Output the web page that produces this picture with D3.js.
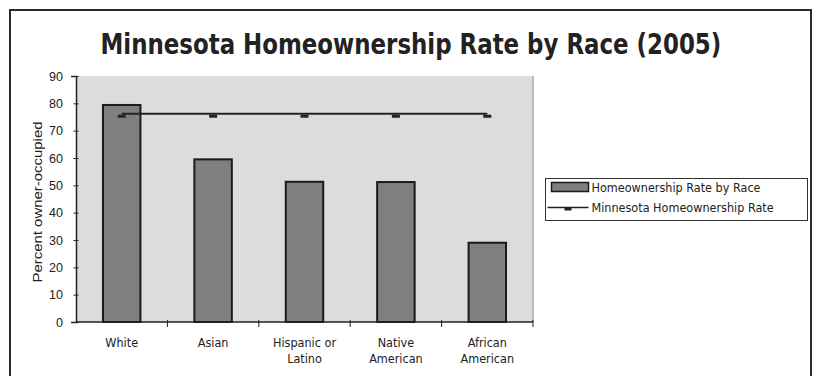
<!DOCTYPE html>
<html>
<head>
<meta charset="utf-8">
<script src="https://cdn.jsdelivr.net/npm/d3@7"></script>
<style>
  body { margin: 0; background: #fff; }
  .cond { font-family: "DejaVu Sans Condensed", "DejaVu Sans", sans-serif; font-stretch: condensed; }
  .arial { font-family: "Liberation Sans", Arial, sans-serif; }
</style>
</head>
<body>
<svg id="chart" width="816" height="376"></svg>
<script>
var categories = [["White"], ["Asian"], ["Hispanic or", "Latino"], ["Native", "American"], ["African", "American"]];
var raceRates = [79.4, 59.5, 51.3, 51.2, 29.0];
var stateRate = [76.2, 76.2, 76.2, 76.2, 76.2];
var yTicks = [0, 10, 20, 30, 40, 50, 60, 70, 80, 90];
var legendLabels = ["Homeownership Rate by Race", "Minnesota Homeownership Rate"];

var svg = d3.select('#chart');

// outer frame (bottom edge runs off the picture)
svg.append('rect')
  .attr('x', 10).attr('y', 10).attr('width', 801).attr('height', 380)
  .attr('fill', '#fff').attr('stroke', '#2a2a2a').attr('stroke-width', 2);

// title, squeezed to the width it has in the original
var title = svg.append('text')
  .attr('class', 'cond')
  .style('font-size', '29px').style('font-weight', 'bold').style('fill', '#222')
  .text('Minnesota Homeownership Rate by Race (2005)');
var tw = title.node().getComputedTextLength(),
    sx = Math.min(1, 621 / tw);
title.attr('transform', 'translate(100.5,53.5) scale(' + sx + ',1)');

var
  plot = {left: 76, right: 533, top: 76, bottom: 322},
  xScale = d3.scaleBand().domain(d3.range(categories.length)).range([plot.left, plot.right]),
  yScale = d3.scaleLinear().domain([0, 90]).range([plot.bottom, plot.top]),
  barW = xScale.bandwidth() * 0.41
  ;

svg.append('rect')
  .attr('x', plot.left).attr('y', plot.top)
  .attr('width', plot.right - plot.left).attr('height', plot.bottom - plot.top)
  .attr('fill', '#dcdcdd');
svg.append('line')
  .attr('x1', plot.right).attr('x2', plot.right)
  .attr('y1', plot.top).attr('y2', plot.bottom)
  .attr('stroke', '#aaa').attr('stroke-width', 1.5);

svg.append('g').selectAll('rect')
  .data(raceRates)
  .join('rect')
  .attr('x', function(d, i){ return xScale(i) + xScale.bandwidth() / 2 - barW / 2; })
  .attr('y', function(d){ return yScale(d); })
  .attr('width', barW)
  .attr('height', function(d){ return yScale(0) - yScale(d); })
  .attr('fill', '#7f7f82').attr('stroke', '#1a1a1a').attr('stroke-width', 2);

// y axis
var yAxis = svg.append('g')
  .attr('transform', 'translate(' + plot.left + ',0)')
  .call(d3.axisLeft(yScale).tickValues(yTicks).tickSize(5).tickPadding(8));
yAxis.select('.domain').attr('stroke', '#222').attr('stroke-width', 1.5);
yAxis.selectAll('.tick line').attr('stroke', '#222').attr('transform', 'translate(2.5,0)').attr('x2', -5);
yAxis.selectAll('text').attr('class', 'arial').style('font-size', '12.5px').style('fill', '#222');

// x axis
var xAxis = svg.append('g').attr('transform', 'translate(0,' + plot.bottom + ')');
xAxis.append('line')
  .attr('x1', plot.left).attr('x2', plot.right)
  .attr('stroke', '#222').attr('stroke-width', 1.5);
xAxis.selectAll('.cat-tick')
  .data(d3.range(categories.length))
  .join('line')
  .attr('x1', function(i){ return xScale(i) + xScale.bandwidth(); })
  .attr('x2', function(i){ return xScale(i) + xScale.bandwidth(); })
  .attr('y1', -2).attr('y2', 5)
  .attr('stroke', '#222');
xAxis.selectAll('.cat')
  .data(categories)
  .join('text')
  .attr('class', 'cond')
  .attr('text-anchor', 'middle')
  .style('font-size', '12.5px').style('fill', '#222')
  .attr('transform', function(d, i){ return 'translate(' + (xScale(i) + xScale.bandwidth() / 2) + ',24.5)'; })
  .selectAll('tspan')
  .data(function(d){ return d; })
  .join('tspan')
  .attr('x', 0)
  .attr('dy', function(d, j){ return j ? 16.5 : 0; })
  .text(function(d){ return d; });

svg.append('text')
  .attr('class', 'arial')
  .attr('transform', 'translate(42,' + 202 + ') rotate(-90)')
  .attr('text-anchor', 'middle')
  .attr('textLength', 161).attr('lengthAdjust', 'spacingAndGlyphs')
  .style('font-size', '13.5px').style('fill', '#222')
  .text('Percent owner-occupied');

// state-wide rate line
var line = d3.line()
  .x(function(d, i){ return xScale(i) + xScale.bandwidth() / 2; })
  .y(function(d){ return yScale(d); });
svg.append('path')
  .datum(stateRate)
  .attr('d', line)
  .attr('fill', 'none').attr('stroke', '#222').attr('stroke-width', 2);
svg.append('g').selectAll('rect')
  .data(stateRate)
  .join('rect')
  .attr('x', function(d, i){ return xScale(i) + xScale.bandwidth() / 2 - 4; })
  .attr('y', function(d){ return yScale(d) + 1; })
  .attr('width', 8).attr('height', 3)
  .attr('fill', '#222');

// legend
var legend = svg.append('g').attr('transform', 'translate(545.5,178.5)');
legend.append('rect')
  .attr('width', 262).attr('height', 42)
  .attr('fill', '#fff').attr('stroke', '#333').attr('stroke-width', 1);
legend.append('rect')
  .attr('x', 6).attr('y', 4).attr('width', 37).attr('height', 9)
  .attr('fill', '#7f7f82').attr('stroke', '#1a1a1a').attr('stroke-width', 1.5);
legend.append('line')
  .attr('x1', 2).attr('x2', 43).attr('y1', 29).attr('y2', 29)
  .attr('stroke', '#222').attr('stroke-width', 1.5);
legend.append('rect')
  .attr('x', 19).attr('y', 29).attr('width', 7).attr('height', 3)
  .attr('fill', '#222');
legend.selectAll('.lbl')
  .data(legendLabels)
  .join('text')
  .attr('class', 'cond')
  .attr('x', 46)
  .attr('y', function(d, i){ return 13 + i * 20; })
  .style('font-size', '12.5px').style('fill', '#222')
  .text(function(d){ return d; });
</script>
</body>
</html>
